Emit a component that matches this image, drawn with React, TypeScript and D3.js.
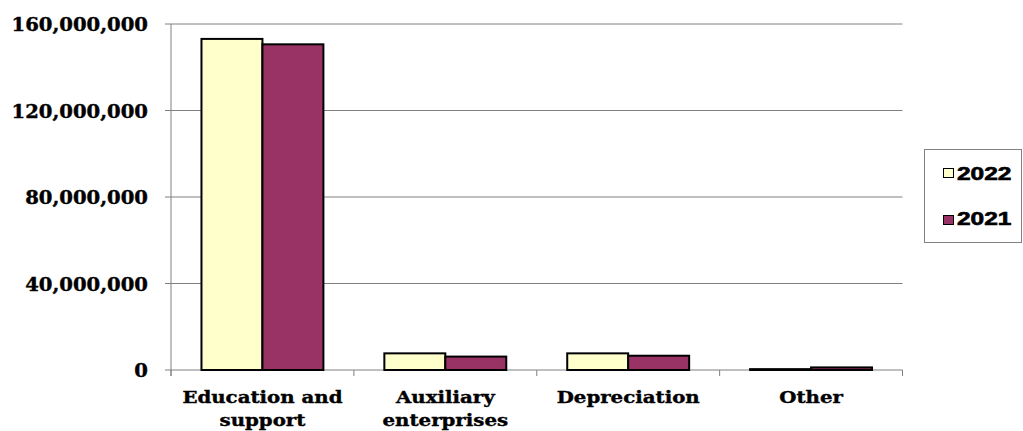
import * as d3 from "d3";

const categories = [["Education and", "support"], ["Auxiliary", "enterprises"], ["Depreciation"], ["Other"]];
const seriesNames = ["2022", "2021"];
const values2022 = [153100000, 7700000, 7700000, 400000];
const values2021 = [150600000, 6200000, 6600000, 1200000];
const yTicks = [0, 40000000, 80000000, 120000000, 160000000];
const colors = ["#FFFFCC", "#993366"];

const W = 1023;
const H = 431;
const plot = { left: 171, right: 902.5, top: 24, bottom: 370 };
const serif = "'DejaVu Serif', serif";

export default function App() {
  const x = d3.scaleBand<number>().domain(d3.range(categories.length)).range([plot.left, plot.right]).paddingInner(0).paddingOuter(0);
  const x1 = d3.scaleBand<number>().domain([0, 1]).range([0, x.bandwidth()]).paddingInner(0).paddingOuter(0.5);
  const y = d3.scaleLinear().domain([0, 160000000]).range([plot.bottom, plot.top]);
  const fmt = d3.format(",");
  const series = [values2022, values2021];

  return (
    <svg width={W} height={H} style={{ position: "absolute", left: 0, top: 0 }}>
      <rect width={W} height={H} fill="#fff" />
      {yTicks.map((t) => (
        <g key={t}>
          <line x1={plot.left - 6} x2={plot.right} y1={y(t)} y2={y(t)} stroke="#808080" strokeWidth={1} />
          <text
            transform={`translate(${plot.left - 23},${y(t) + 7}) scale(1.09,1)`}
            textAnchor="end"
            fontFamily={serif}
            fontWeight="bold"
            fontSize={18}
            fill="#000"
            stroke="#000"
            strokeWidth={0.4}
          >
            {fmt(t)}
          </text>
        </g>
      ))}
      <line x1={plot.left} x2={plot.left} y1={plot.top} y2={plot.bottom + 6} stroke="#808080" strokeWidth={1} />
      {d3.range(categories.length + 1).map((i) => {
        const xx = i < categories.length ? x(i)! : plot.right;
        return <line key={i} x1={xx} x2={xx} y1={plot.bottom} y2={plot.bottom + 6} stroke="#808080" strokeWidth={1} />;
      })}
      {categories.map((_, i) =>
        series.map((vals, s) => {
          const bx = x(i)! + x1(s)!;
          const top = y(vals[i]);
          return (
            <rect
              key={`${i}-${s}`}
              x={bx}
              y={top}
              width={x1.bandwidth()}
              height={plot.bottom - top}
              fill={colors[s]}
              stroke="#000"
              strokeWidth={2}
            />
          );
        })
      )}
      {categories.map((lines, i) => (
        <g key={i}>
          {lines.map((ln, j) => (
            <text
              key={j}
              transform={`translate(${x(i)! + x.bandwidth() / 2},${403 + j * 23}) scale(1.13,1)`}
              textAnchor="middle"
              fontFamily={serif}
              fontWeight="bold"
              fontSize={17.5}
              fill="#000"
              stroke="#000"
              strokeWidth={0.4}
            >
              {ln}
            </text>
          ))}
        </g>
      ))}
      <rect x={924.5} y={149.5} width={97} height={93} fill="#fff" stroke="#808080" strokeWidth={1} />
      {seriesNames.map((n, s) => (
        <g key={n}>
          <rect x={943.5} y={168.5 + s * 47} width={10} height={9} fill={colors[s]} stroke="#000" strokeWidth={1} />
          <text
            transform={`translate(957,${179.5 + s * 45.5}) scale(1.4,1)`}
            fontFamily="'Liberation Sans', Arial, sans-serif"
            fontWeight="bold"
            fontSize={17.5}
            fill="#000"
            stroke="#000"
            strokeWidth={0.6}
          >
            {n}
          </text>
        </g>
      ))}
    </svg>
  );
}
